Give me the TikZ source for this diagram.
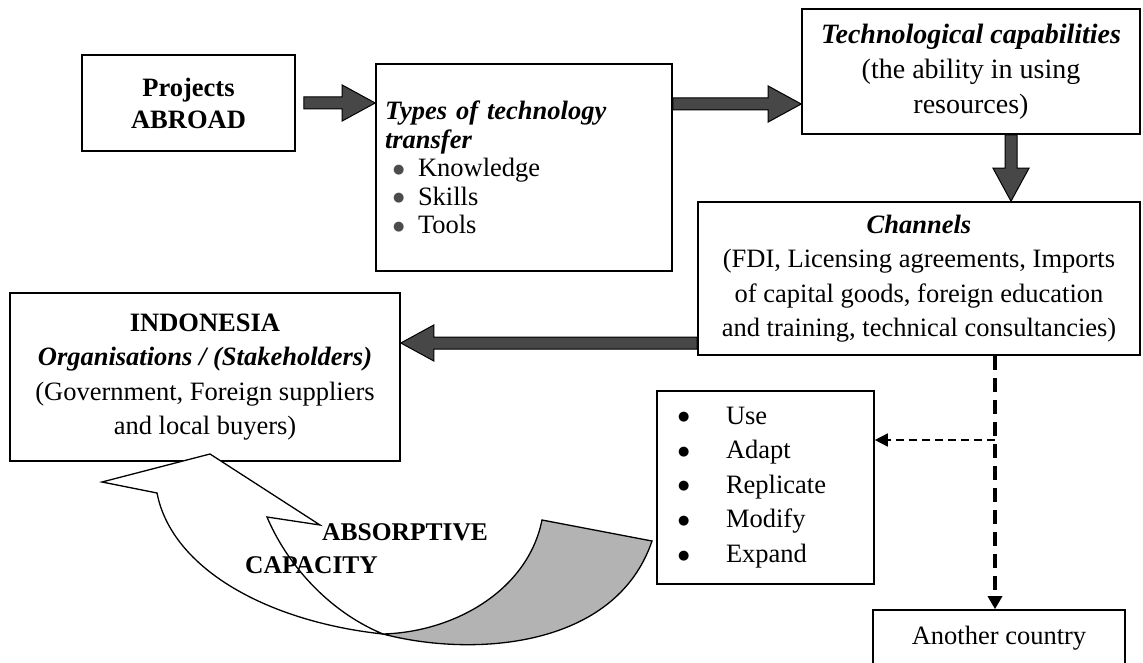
\documentclass[tikz,border=0pt]{standalone}
\usepackage{fontspec}
\setmainfont{Liberation Serif}
\newfontfamily\symfont{DejaVu Sans}
\usetikzlibrary{calc,arrows.meta}

\definecolor{arrowfill}{HTML}{474747}
\definecolor{tailgray}{HTML}{B3B3B3}

\tikzset{
  box/.style={draw=black, line width=1.6pt, fill=white, rectangle, inner sep=0pt, align=center},
  barrow/.style={draw=black, line width=1pt, fill=arrowfill, line join=miter},
  ribbon/.style={draw=black, line width=1.3pt, line join=miter},
  dashmain/.style={line width=3.2pt, dash pattern=on 14pt off 8pt, -{Triangle[width=14pt,length=13pt]}},
  dashbranch/.style={line width=1.5pt, dash pattern=on 8pt off 5pt, -{Triangle[width=13pt,length=13pt]}},
  capword/.style={anchor=west, inner sep=0pt, font=\bfseries\fontsize{25.5}{25.5}\selectfont},
}

% wide block arrow with a triangular head, from #1 to #2
\newcommand\blockarrow[2]{%
  \coordinate (ba-s) at (#1);
  \coordinate (ba-e) at (#2);
  \coordinate (ba-h) at ($(ba-e)!33pt!(ba-s)$);
  \draw[barrow] ($(ba-s)!6pt!90:(ba-e)$) -- ($(ba-h)!6pt!-90:(ba-s)$)
     -- ($(ba-h)!18pt!-90:(ba-s)$) -- (ba-e) -- ($(ba-h)!18pt!90:(ba-s)$)
     -- ($(ba-h)!6pt!90:(ba-s)$) -- ($(ba-s)!6pt!-90:(ba-e)$) -- cycle;
}
% round list dot
\newcommand\bigdot{\raisebox{3.5pt}{\symfont\fontsize{13}{13}\selectfont ●}}
\newcommand\tbul{\makebox[33pt][l]{\hspace{8pt}\textcolor{black!70}{\bigdot}}}
\newcommand\ubul{\makebox[48pt][l]{\bigdot}}

\begin{document}
\begin{tikzpicture}[x=1pt, y=-1pt]
\useasboundingbox (0,0) rectangle (1143,663);
\fill[white] (0,0) rectangle (1143,663);

% boxes
\node[box, minimum width=213pt, minimum height=96pt,
      font=\bfseries\fontsize{26.5}{32}\selectfont] (proj) at (188.5,103) {Projects\\ABROAD};

\node[box, minimum width=296pt, minimum height=207pt, text width=278pt, align=left,
      font=\fontsize{26.5}{28.5}\selectfont] (types) at (524,167.5)
  {\textbf{\textit{Types of technology}}\\
   \textbf{\textit{transfer}}\\
   \tbul Knowledge\\
   \tbul Skills\\
   \tbul Tools};

\node[box, minimum width=338pt, minimum height=125pt,
      font=\fontsize{28}{35}\selectfont] (techcap) at (971,71.5)
  {\textbf{\textit{Technological capabilities}}\\(the ability in using\\resources)};

\node[box, minimum width=442pt, minimum height=153pt,
      font=\fontsize{26.5}{34.5}\selectfont] (channels) at (919,278.5)
  {\textbf{\textit{Channels}}\\
   (FDI, Licensing agreements, Imports\\
   of capital goods, foreign education\\
   and training, technical consultancies)};

\node[box, minimum width=390pt, minimum height=168pt,
      font=\fontsize{26.5}{34.5}\selectfont] (indo) at (205,377)
  {\textbf{INDONESIA}\\
   \textbf{\textit{Organisations / (Stakeholders)}}\\
   (Government, Foreign suppliers\\
   and local buyers)};

\node[box, minimum width=217pt, minimum height=193pt, text width=175pt, align=left,
      font=\fontsize{26.5}{34.6}\selectfont] (use) at (765.5,487.5)
  {\ubul Use\\ \ubul Adapt\\ \ubul Replicate\\ \ubul Modify\\ \ubul Expand};

\node[box, minimum width=252pt, minimum height=56pt,
      font=\fontsize{26.5}{34.5}\selectfont] (another) at (999,638) {Another country};

% block arrows
\coordinate (a2) at (0,104);
\coordinate (a3) at (1011,0);
\coordinate (a4) at (0,343);
\blockarrow{[xshift=8pt]proj.east}{types.west |- proj.east}
\blockarrow{types.east |- a2}{techcap.west |- a2}
\blockarrow{techcap.south -| a3}{channels.north -| a3}
\blockarrow{channels.west |- a4}{indo.east |- a4}

% dashed connectors
\coordinate (dx) at (995,0);
\coordinate (br) at (995,440);
\draw[dashmain] (channels.south -| dx) -- (another.north -| dx);
\draw[dashbranch] (br) -- (use.east |- br);

% curved ribbon arrow: white front part and shaded tail
\draw[ribbon, fill=white] (157,493) .. controls (172,570) and (270,622) .. (383,634)
   .. controls (325,610) and (285,560) .. (267,517)
   -- (320,525) -- (210,454) -- (102,482) -- cycle;
\draw[ribbon, fill=tailgray] (383,634) .. controls (470,657) and (615,650) .. (652,541)
   -- (542,520) .. controls (528,590) and (455,632) .. (383,634) -- cycle;

\node[capword] (absw) at (322,532) {ABSORPTIVE};
\node[capword] (capw) at (245,565) {CAPACITY};
\end{tikzpicture}
\end{document}
